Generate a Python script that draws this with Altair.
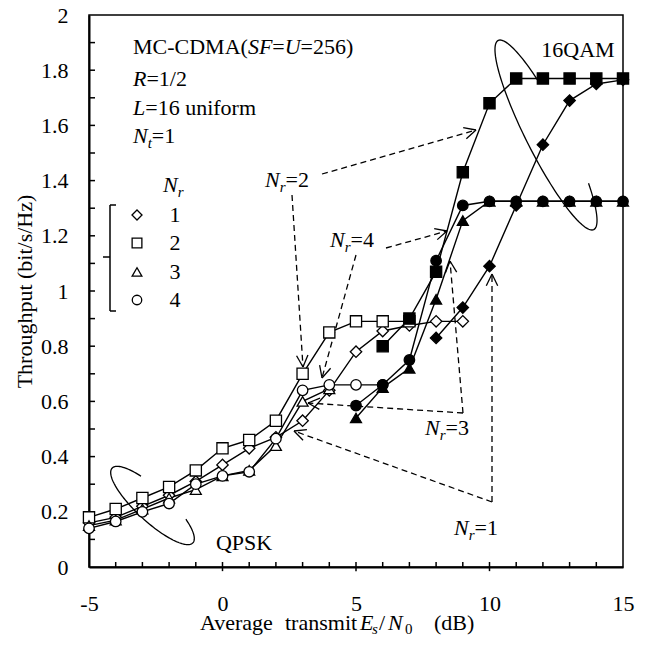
import math
import altair as alt
import pandas as pd

FONT = "Liberation Serif"
FS = 22
SUB = 15

# ---------------- data ----------------
# QPSK, open markers
qpsk_nr1_x = [-5, -4, -3, -2, -1, 0, 1, 2, 3, 4, 5, 6, 7, 8, 9]
qpsk_nr1_y = [0.16, 0.18, 0.22, 0.26, 0.31, 0.37, 0.43, 0.47, 0.53, 0.64, 0.78, 0.855, 0.875, 0.89, 0.89]
qpsk_nr2_x = [-5, -4, -3, -2, -1, 0, 1, 2, 3, 4, 5, 6, 7]
qpsk_nr2_y = [0.18, 0.21, 0.25, 0.29, 0.35, 0.43, 0.46, 0.53, 0.70, 0.85, 0.89, 0.89, 0.89]
qpsk_nr3_x = [-5, -4, -3, -2, -1, 0, 1, 2, 3, 4]
qpsk_nr3_y = [0.15, 0.17, 0.21, 0.25, 0.28, 0.33, 0.35, 0.44, 0.60, 0.645]
qpsk_nr4_x = [-5, -4, -3, -2, -1, 0, 1, 2, 3, 4, 5, 6]
qpsk_nr4_y = [0.14, 0.165, 0.20, 0.23, 0.30, 0.33, 0.345, 0.465, 0.64, 0.66, 0.66, 0.66]
# 16QAM, filled markers
qam_nr1_x = [8, 9, 10, 11, 12, 13, 14, 15]
qam_nr1_y = [0.83, 0.94, 1.09, 1.31, 1.53, 1.69, 1.75, 1.765]
qam_nr2_x = [6, 7, 8, 9, 10, 11, 12, 13, 14, 15]
qam_nr2_y = [0.80, 0.90, 1.07, 1.43, 1.68, 1.77, 1.77, 1.77, 1.77, 1.77]
qam_nr3_x = [5, 6, 7, 8, 9, 10, 11, 12, 13, 14, 15]
qam_nr3_y = [0.54, 0.65, 0.72, 0.97, 1.255, 1.325, 1.325, 1.325, 1.325, 1.325, 1.325]
qam_nr4_x = [5, 6, 7, 8, 9, 10, 11, 12, 13, 14, 15]
qam_nr4_y = [0.585, 0.66, 0.75, 1.11, 1.31, 1.325, 1.325, 1.325, 1.325, 1.325, 1.325]

nr_values = ["1", "2", "3", "4"]
nr_shapes = ["diamond", "square", "triangle-up", "circle"]
nr_sizes = [130, 125, 120, 110]

x_tick_labels = [-5, 0, 5, 10, 15]
y_tick_labels = [0, 0.2, 0.4, 0.6, 0.8, 1, 1.2, 1.4, 1.6, 1.8, 2]

# ---------------- geometry helpers for annotations ----------------
PL, PT, PW, PH = 89, 15, 534, 552
XD = (-5, 15)
YD = (0, 2)


def X(px):
    return XD[0] + (px - PL) / PW * (XD[1] - XD[0])


def Y(py):
    return YD[0] + (PT + PH - py) / PH * (YD[1] - YD[0])


REG = {' ': 250, '(': 333, ')': 333, '-': 333, '/': 278, '=': 564, '.': 250,
       'A': 722, 'B': 667, 'C': 667, 'D': 722, 'E': 611, 'F': 556, 'H': 722, 'K': 722,
       'L': 611, 'M': 889, 'N': 722, 'P': 556, 'Q': 722, 'R': 667, 'S': 556, 'U': 722,
       'a': 444, 'b': 500, 'd': 500, 'e': 444, 'f': 333, 'g': 500, 'h': 500, 'i': 278,
       'm': 778, 'n': 500, 'o': 500, 'p': 500, 'r': 333, 's': 389, 't': 278, 'u': 500,
       'v': 500, 'z': 444}
ITA = {'E': 611, 'F': 611, 'L': 556, 'N': 667, 'R': 611, 'S': 500, 'U': 722,
       'r': 389, 's': 389, 't': 278}


def tw(s, italic, size):
    tab = ITA if italic else REG
    return sum(tab.get(c, REG.get(c, 500)) for c in s) / 1000 * size


texts = []


def rich(segs, px, base, anchor="left"):
    total = sum(tw(t, it, SUB if sb else FS) for t, it, sb in segs)
    x = px if anchor == "left" else px - total / 2
    for t, it, sb in segs:
        size = SUB if sb else FS
        if t.strip():
            texts.append(dict(x=X(x), y=Y(base + (5 if sb else 0)), text=t,
                              italic=bool(it), size=size))
        x += tw(t, it, size)


def at(t, it, sb, px, base):
    texts.append(dict(x=X(px), y=Y(base + (4 if sb else 0)), text=t,
                      italic=bool(it), size=SUB if sb else FS))


rich([("MC-CDMA(", 0, 0), ("SF", 1, 0), ("=", 0, 0), ("U", 1, 0), ("=256)", 0, 0)], 133, 54)
rich([("R", 1, 0), ("=1/2", 0, 0)], 133, 86)
rich([("L", 1, 0), ("=16 uniform", 0, 0)], 133, 115)
rich([("N", 1, 0), ("t", 1, 1), ("=1", 0, 0)], 133, 143)
rich([("N", 1, 0), ("r", 1, 1)], 163, 192)
for lab, base in zip(nr_values, [222, 250, 279, 307]):
    rich([(lab, 0, 0)], 175, base, "center")
rich([("N", 1, 0), ("r", 1, 1), ("=2", 0, 0)], 265, 187)
rich([("N", 1, 0), ("r", 1, 1), ("=4", 0, 0)], 330, 247)
rich([("N", 1, 0), ("r", 1, 1), ("=3", 0, 0)], 425, 435)
rich([("N", 1, 0), ("r", 1, 1), ("=1", 0, 0)], 454, 535)
rich([("16QAM", 0, 0)], 578, 57, "center")
rich([("QPSK", 0, 0)], 244, 550, "center")
# x axis title
TB = 630
at("Average", 0, 0, 200, TB)
at("transmit", 0, 0, 285, TB)
at("E", 1, 0, 360, TB)
at("s", 1, 1, 372, TB)
at("/", 0, 0, 379, TB)
at("N", 1, 0, 388, TB)
at("0", 0, 1, 405, TB)
at("(dB)", 0, 0, 434, TB)

tdf = pd.DataFrame(texts)

# legend symbols
leg = pd.DataFrame(dict(x=[X(137)] * 4, y=[Y(p) for p in [215, 243, 272, 300]],
                        nr=nr_values, sz=[100, 95, 95, 90]))

# bracket
br = [(110, 205, 110, 311), (110, 205, 116, 205), (110, 311, 116, 311), (103, 257, 110, 257)]
brdf = pd.DataFrame([dict(x=X(a), y=Y(b), x2=X(c), y2=Y(d)) for a, b, c, d in br])

# dashed arrows (page px: start -> tip)
arrows = [(322, 174, 476, 130), (292, 195, 303, 367), (386, 248, 447, 231), (356, 255, 322, 378),
          (463, 413, 450, 261), (463, 413, 308, 403), (492, 502, 492, 274), (492, 502, 294, 431)]
dash_rows, head_rows = [], []
for x0, y0, x1, y1 in arrows:
    dash_rows.append(dict(x=X(x0), y=Y(y0), x2=X(x1), y2=Y(y1)))
    d = math.atan2(y1 - y0, x1 - x0)
    for s in (1, -1):
        a = d + math.pi + s * math.radians(26)
        head_rows.append(dict(x=X(x1), y=Y(y1), x2=X(x1 + 13 * math.cos(a)), y2=Y(y1 + 13 * math.sin(a))))
dashdf = pd.DataFrame(dash_rows)
headdf = pd.DataFrame(head_rows)

# ellipses (page px): center, semi axes, major dir, arc start/end deg
ell_rows = []
for eid, (cx, cy, a, b, ux, uy, t0, t1) in enumerate([
        (546, 135, 106, 20, 0.451, 0.892, 118, 414),
        (152.5, 505.5, 55, 16, 0.734, 0.679, 121, 412)]):
    vx, vy = uy, -ux
    n = 120
    for i in range(n + 1):
        t = math.radians(t0 + (t1 - t0) * i / n)
        px = cx + a * math.cos(t) * ux + b * math.sin(t) * vx
        py = cy + a * math.cos(t) * uy + b * math.sin(t) * vy
        ell_rows.append(dict(x=X(px), y=Y(py), e=eid, i=i))
elldf = pd.DataFrame(ell_rows)

# ticks
tick_rows = []
for v in range(-4, 15):
    lo = -0.015 if v % 5 == 0 else 0
    tick_rows.append(dict(x=v, y=lo, x2=v, y2=5 / PH * 2))
for k in range(1, 20):
    v = k / 10
    tick_rows.append(dict(x=-5, y=v, x2=-5 + 6 / PW * 20, y2=v))
tickdf = pd.DataFrame(tick_rows)

# series
rows = []
for mod, nr, xs_, ys_ in [
        ("QPSK", "1", qpsk_nr1_x, qpsk_nr1_y), ("QPSK", "2", qpsk_nr2_x, qpsk_nr2_y),
        ("QPSK", "3", qpsk_nr3_x, qpsk_nr3_y), ("QPSK", "4", qpsk_nr4_x, qpsk_nr4_y),
        ("16QAM", "1", qam_nr1_x, qam_nr1_y), ("16QAM", "2", qam_nr2_x, qam_nr2_y),
        ("16QAM", "3", qam_nr3_x, qam_nr3_y), ("16QAM", "4", qam_nr4_x, qam_nr4_y)]:
    for xv, yv in zip(xs_, ys_):
        rows.append(dict(x=xv, y=yv, mod=mod, nr=nr, series=mod + nr,
                         sz=nr_sizes[nr_values.index(nr)]))
sdf = pd.DataFrame(rows)

# ---------------- chart ----------------
xs = alt.Scale(domain=list(XD), nice=False, zero=False)
ys = alt.Scale(domain=list(YD), nice=False, zero=False)
xaxis = alt.Axis(values=x_tick_labels, title="", ticks=False, tickSize=0, grid=False,
                 domainColor="black", domainWidth=2, labelFont=FONT, labelFontSize=FS,
                 labelColor="black", labelPadding=26, labelFlush=False, labelOverlap=False,
                 labelExpr="datum.value + ''")
yaxis = alt.Axis(values=y_tick_labels, format="~g", title="Throughput (bit/s/Hz)", ticks=False,
                 tickSize=0, grid=False, domainColor="black", domainWidth=2, labelFont=FONT,
                 labelFontSize=FS, labelColor="black", labelPadding=21, labelFlush=False,
                 labelOverlap=False, titleFont=FONT, titleFontSize=FS, titleFontWeight="normal",
                 titleColor="black", titlePadding=4)


def ex():
    return alt.X("x:Q", scale=xs, axis=xaxis)


def ey():
    return alt.Y("y:Q", scale=ys, axis=yaxis)


ticks = alt.Chart(tickdf).mark_rule(color="black", strokeWidth=1.5).encode(
    x=ex(), y=ey(), x2="x2:Q", y2="y2:Q")
ells = alt.Chart(elldf).mark_line(color="black", strokeWidth=1.3).encode(
    x=ex(), y=ey(), detail="e:N", order="i:Q")
dashes = alt.Chart(dashdf).mark_rule(color="black", strokeWidth=1.3, strokeDash=[6, 4]).encode(
    x=ex(), y=ey(), x2="x2:Q", y2="y2:Q")
heads = alt.Chart(headdf).mark_rule(color="black", strokeWidth=1.3).encode(
    x=ex(), y=ey(), x2="x2:Q", y2="y2:Q")
bracket = alt.Chart(brdf).mark_rule(color="black", strokeWidth=1.5).encode(
    x=ex(), y=ey(), x2="x2:Q", y2="y2:Q")
lines = alt.Chart(sdf).mark_line(color="black", strokeWidth=1.4).encode(
    x=ex(), y=ey(), detail="series:N", order="x:Q")
shape_enc = alt.Shape("nr:N", scale=alt.Scale(domain=nr_values, range=nr_shapes), legend=None)
points = alt.Chart(sdf).mark_point(filled=True, stroke="black", strokeWidth=1.3, opacity=1,
                                   fillOpacity=1).encode(
    x=ex(), y=ey(), shape=shape_enc,
    fill=alt.Fill("mod:N", scale=alt.Scale(domain=["QPSK", "16QAM"], range=["white", "black"]),
                  legend=None),
    size=alt.Size("sz:Q", scale=None))
legpts = alt.Chart(leg).mark_point(filled=True, fill="white", stroke="black", strokeWidth=1.3,
                                   opacity=1).encode(
    x=ex(), y=ey(), shape=shape_enc, size=alt.Size("sz:Q", scale=None))
tnorm = alt.Chart(tdf[~tdf.italic]).mark_text(font=FONT, align="left", baseline="alphabetic",
                                              color="black").encode(
    x=ex(), y=ey(), text="text:N", size=alt.Size("size:Q", scale=None))
tital = alt.Chart(tdf[tdf.italic]).mark_text(font=FONT, fontStyle="italic", align="left",
                                             baseline="alphabetic", color="black").encode(
    x=ex(), y=ey(), text="text:N", size=alt.Size("size:Q", scale=None))

chart = alt.layer(ticks, ells, dashes, heads, bracket, lines, points, legpts, tnorm, tital).properties(
    width=PW, height=PH,
    autosize=alt.AutoSizeParams(type="none"),
    padding={"left": PL - 8, "top": PT - 8, "right": 634 - (PL - 8) - PW, "bottom": 630 - (PT - 8) - PH},
    background="white",
).configure_view(stroke="black", strokeWidth=1.5)

chart.save("out.html", embed_options={"renderer": "svg", "actions": False})
